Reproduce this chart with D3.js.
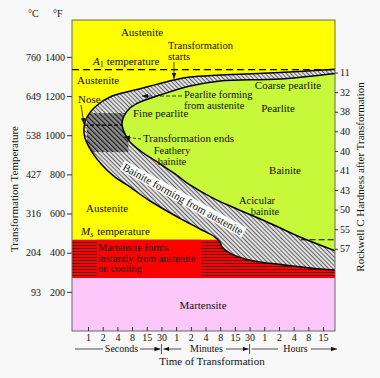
<!DOCTYPE html>
<html><head><meta charset="utf-8">
<script src="https://cdn.jsdelivr.net/npm/d3@7"></script>
<style>
body{margin:0;background:#f8f8f8}
svg{display:block}
text{font-family:"Liberation Serif","Times New Roman",serif;fill:#111}
</style>
</head><body><svg id="c" width="380" height="378"></svg>
<script>
// ---------- data ----------
const tickSeconds = [1,2,4,8,15,30,60,120,240,480,900,1800,3600,7200,14400,28800,54000];
const tickLabels  = ["1","2","4","8","15","30","1","2","4","8","15","30","1","2","4","8","15"];
const tempF = [200,400,600,800,1000,1200,1400];
const tempC = [93,204,316,427,538,649,760];
const hardness = [11,32,38,40,40,41,43,50,55,57];
const hardnessTempF = [1320,1220,1120,1020,920,820,720,620,520,420];
const A1F = 1335, MsF = 466, MfF = 270;
// transformation start curve [seconds, °F]
const startCurve = [[100000,1338],[7500,1320],[475,1307],[115,1297],[54,1282],[22,1257],[10.8,1236],[3.1,1200],[1.39,1144],[0.954,1093],[0.828,1042],[0.868,986],[1.21,914],[1.94,848],[3.58,786],[6.3,746],[17.5,664],[83,567],[185,521],[375,480],[475,455],[518,429],[730,398],[1840,362],[8700,338],[31000,322],[100000,311]];
// transformation end curve [seconds, °F]
const endCurve = [[100000,1317],[7500,1287],[475,1277],[115,1251],[28,1205],[11.2,1169],[7.26,1139],[5.47,1098],[4.97,1057],[5.47,1017],[7.26,965],[12.2,914],[26.7,858],[56.8,802],[115,746],[341,679],[900,628],[4100,557],[19400,480],[100000,405]];
const noseT = [0.83, 4.97], noseF = 1052;
const darkT = [0.95, 6.7], darkF = [914, 1113];

// ---------- scales ----------
const svg = d3.select("#c");
const L = 72, R = 335, T = 20, B = 331;
const x = d3.scaleLog().domain(tickSeconds)
  .range(tickSeconds.map((d,i)=>88 + i*(323-88)/(tickSeconds.length-1)));
const y = d3.scaleLinear().domain([0,1400]).range([331,56.9]);

svg.append("rect").attr("width",380).attr("height",378).attr("fill","#f8f8f8");

const defs = svg.append("defs");
defs.append("clipPath").attr("id","plotClip").append("rect")
  .attr("x",L).attr("y",T).attr("width",R-L).attr("height",B-T);
const line = d3.line().x(d=>x(d[0])).y(d=>y(d[1])).curve(d3.curveCatmullRom.alpha(0.5));
const bandPath = line(startCurve) + "Z";
const greenPath = line(endCurve) + "Z";
defs.append("clipPath").attr("id","bandClip").append("path").attr("d",bandPath);

function hatch(id,bg,fg,w,sz,ang){
  const p = defs.append("pattern").attr("id",id).attr("patternUnits","userSpaceOnUse")
    .attr("width",sz).attr("height",sz).attr("patternTransform",`rotate(${ang})`);
  p.append("rect").attr("width",sz).attr("height",sz).attr("fill",bg);
  p.append("line").attr("x1",0.5).attr("x2",0.5).attr("y1",0).attr("y2",sz).attr("stroke",fg).attr("stroke-width",w);
}
hatch("band","#e2e2e2","#555",0.9,3,-45);
hatch("dark","#909090","#1a1a1a",1.4,3.5,-45);
const st = defs.append("pattern").attr("id","stripes").attr("patternUnits","userSpaceOnUse")
  .attr("width",4).attr("height",3);
st.append("rect").attr("width",4).attr("height",3).attr("fill","#ff0000");
st.append("rect").attr("y",2).attr("width",4).attr("height",1).attr("fill","#5a0000");
const mk = defs.append("marker").attr("id","arr").attr("viewBox","0 0 8 6")
  .attr("refX",8).attr("refY",3).attr("markerWidth",6).attr("markerHeight",5)
  .attr("markerUnits","userSpaceOnUse").attr("orient","auto");
mk.append("path").attr("d","M0,0L8,3L0,6Z").attr("fill","#111");

const g = svg.append("g").attr("clip-path","url(#plotClip)");
g.append("rect").attr("x",L).attr("y",T).attr("width",R-L).attr("height",y(MsF)-T).attr("fill","#ffff00");
g.append("rect").attr("x",L).attr("y",y(MsF)).attr("width",R-L).attr("height",y(MfF)-y(MsF)).attr("fill","url(#stripes)");
g.append("rect").attr("x",97).attr("y",y(MsF)).attr("width",104).attr("height",y(MfF)-y(MsF)-1).attr("fill","#ff0000");
g.append("rect").attr("x",L).attr("y",y(MfF)).attr("width",R-L).attr("height",B-y(MfF)).attr("fill","#fcc8fc");
g.append("path").attr("d",bandPath).attr("fill","url(#band)");
g.append("rect").attr("clip-path","url(#bandClip)")
  .attr("x",x(darkT[0])).attr("width",x(darkT[1])-x(darkT[0]))
  .attr("y",y(darkF[1])).attr("height",y(darkF[0])-y(darkF[1])).attr("fill","url(#dark)");
g.append("path").attr("d",greenPath).attr("fill","#c8f83a");
g.append("path").attr("d",line(startCurve)).attr("fill","none").attr("stroke","#000").attr("stroke-width",1.5);
g.append("path").attr("d",line(endCurve)).attr("fill","none").attr("stroke","#000").attr("stroke-width",1.5);
// dashed lines
g.append("line").attr("x1",L).attr("x2",R).attr("y1",y(A1F)).attr("y2",y(A1F))
  .attr("stroke","#000").attr("stroke-width",1.2).attr("stroke-dasharray","7,4");
g.append("line").attr("x1",x(20000)).attr("x2",R).attr("y1",y(MsF)).attr("y2",y(MsF))
  .attr("stroke","#000").attr("stroke-width",1.2).attr("stroke-dasharray","6,3");
g.append("line").attr("x1",x(noseT[0])).attr("x2",x(noseT[1])).attr("y1",y(noseF)).attr("y2",y(noseF))
  .attr("stroke","#000").attr("stroke-width",1.3).attr("stroke-dasharray","4,2");

svg.append("rect").attr("x",L).attr("y",T).attr("width",R-L).attr("height",B-T)
  .attr("fill","none").attr("stroke","#666").attr("stroke-width",1);

// ---------- axes ----------
function styleAxis(sel){
  sel.select(".domain").remove();
  sel.selectAll("text").attr("font-family","Liberation Serif, serif").attr("font-size",10).attr("fill","#111");
  sel.selectAll("line").attr("stroke","#333");
}
svg.append("g").attr("transform",`translate(${L},0)`)
  .call(d3.axisLeft(y).tickValues(tempF).tickFormat(d3.format("d")).tickSize(5).tickPadding(2)).call(styleAxis);
svg.append("g").attr("transform",`translate(${L},0)`)
  .call(d3.axisLeft(y).tickValues(tempF).tickFormat((d,i)=>tempC[i]).tickSize(0).tickPadding(31)).call(styleAxis);
svg.append("g").attr("transform",`translate(${R},0)`)
  .call(d3.axisRight(y).tickValues(hardnessTempF).tickFormat((d,i)=>hardness[i]).tickSize(3).tickPadding(2)).call(styleAxis);
svg.append("g").attr("transform",`translate(0,${B})`)
  .call(d3.axisBottom(x).tickValues(tickSeconds).tickFormat((d,i)=>tickLabels[i]).tickSize(-4).tickPadding(3)).call(styleAxis);

function txt(s,xx,yy,opt={}){
  return svg.append("text").attr("x",xx).attr("y",yy).attr("font-size",opt.size||11)
    .attr("text-anchor",opt.anchor||"start").text(s);
}
txt("°C",28,17,{size:10});
txt("°F",53,17,{size:10});
svg.append("text").attr("transform","translate(18,189) rotate(-90)").attr("text-anchor","middle")
  .attr("font-size",11).text("Transformation Temperature");
svg.append("text").attr("transform","translate(364,177) rotate(-90)").attr("text-anchor","middle")
  .attr("font-size",11).text("Rockwell C Hardness after Transformation");
txt("Time of Transformation",212,365,{anchor:"middle"});

// time unit row
const ry = 349;
const seg = (x1,x2,arrow)=>{const l=svg.append("line").attr("x1",x1).attr("x2",x2).attr("y1",ry).attr("y2",ry)
  .attr("stroke","#222").attr("stroke-width",0.8); if(arrow) l.attr("marker-end","url(#arr)");};
seg(75,103,false); seg(140,x(30)-1,true);
seg(x(30)+20,x(30)+2,true); seg(226,x(1800)-1,true);
seg(x(1800)+2,278,false); seg(311,337,true);
[x(30),x(1800)].forEach(v=>svg.append("line").attr("x1",v).attr("x2",v).attr("y1",344).attr("y2",354).attr("stroke","#222").attr("stroke-width",0.8));
txt("Seconds",121.5,352,{size:10,anchor:"middle"});
txt("Minutes",206.5,352,{size:10,anchor:"middle"});
txt("Hours",295.5,352,{size:10,anchor:"middle"});

// ---------- annotations ----------
txt("Austenite",142,36,{anchor:"middle"});
txt("Transformation",168,49,{size:10.5});
txt("starts",168,60,{size:10.5});
const a1 = svg.append("text").attr("x",93).attr("y",65).attr("font-size",11);
a1.append("tspan").attr("font-style","italic").text("A");
a1.append("tspan").attr("font-size",8).attr("dy",2).text("1");
a1.append("tspan").attr("dy",-2).attr("dx",3).text("temperature");
txt("Austenite",77,84);
txt("Nose",78,103);
txt("Pearlite forming",184,98,{size:10.5});
txt("from austenite",184,109,{size:10.5});
txt("Fine pearlite",133,117);
txt("Transformation ends",143,142);
txt("Feathery",172,154,{anchor:"middle",size:10.5});
txt("bainite",172,165,{anchor:"middle",size:10.5});
txt("Coarse pearlite",288,89,{anchor:"middle"});
txt("Pearlite",278,112,{anchor:"middle"});
txt("Bainite",285,174,{anchor:"middle"});
txt("Acicular",257,204,{anchor:"middle",size:10.5});
txt("bainite",265,215,{anchor:"middle",size:10.5});
txt("Austenite",86,212);
const ms = svg.append("text").attr("x",81).attr("y",235).attr("font-size",11);
ms.append("tspan").attr("font-style","italic").text("M");
ms.append("tspan").attr("font-size",8).attr("dy",2).attr("font-style","italic").text("s");
ms.append("tspan").attr("dy",-2).attr("dx",4).text("temperature");
txt("Martensite forms",98,251,{size:10.3});
txt("instantly from austenite",98,261.5,{size:10.3});
txt("on cooling",98,272,{size:10.3});
txt("Martensite",203,309,{anchor:"middle"});

// rotated band label
const bg = svg.append("g").attr("transform","translate(183,199) rotate(29)");
const bt = bg.append("text").attr("text-anchor","middle").attr("dy","0.35em").attr("font-size",11)
  .text("Bainite forming from austenite");
const bb = bt.node().getBBox();
bg.insert("rect","text").attr("x",bb.x-1.5).attr("y",bb.y+0.5).attr("width",bb.width+3).attr("height",bb.height-1).attr("fill","#fff");

// arrows
const arrow=(x1,y1,x2,y2,dash)=>{const l=svg.append("line").attr("x1",x1).attr("y1",y1).attr("x2",x2).attr("y2",y2)
  .attr("stroke","#111").attr("stroke-width",0.8).attr("marker-end","url(#arr)"); if(dash) l.attr("stroke-dasharray",dash);};
arrow(174,62,174,79);
arrow(182,96,142,96,"4,2");
arrow(141,139,124,137,"3,2");
arrow(81,105,84,124);
</script></body></html>
